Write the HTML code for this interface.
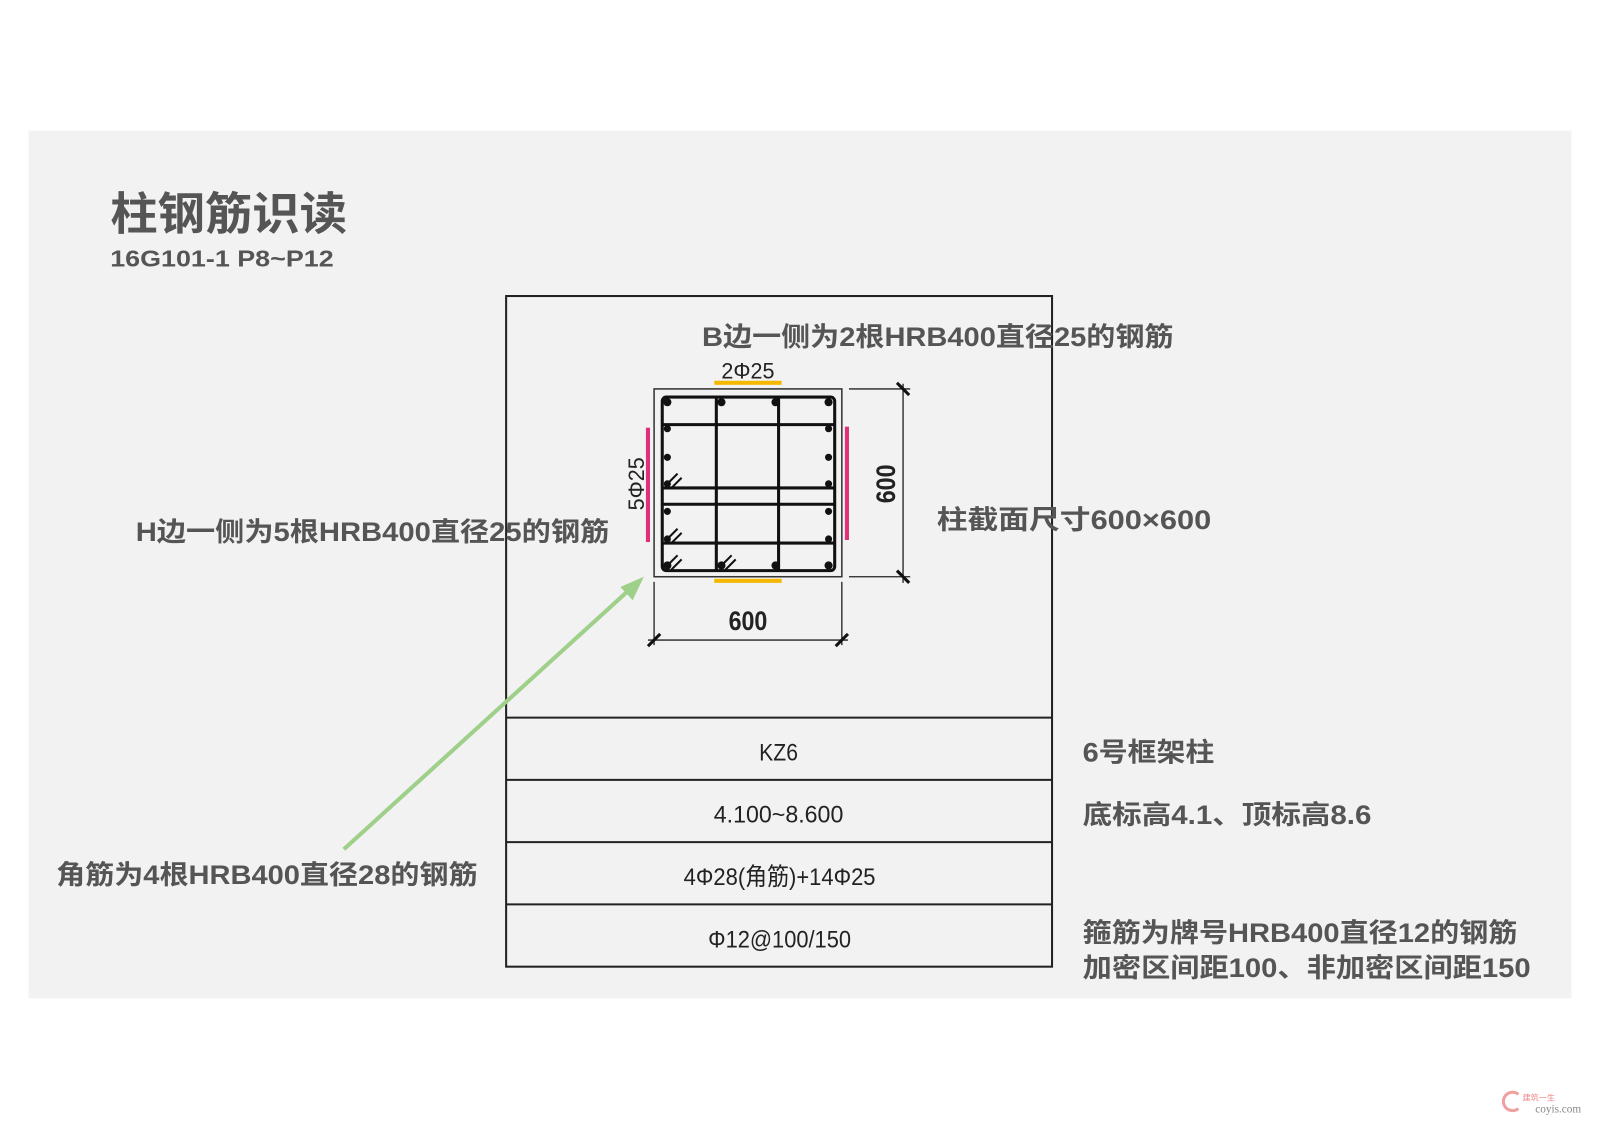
<!DOCTYPE html>
<html><head><meta charset="utf-8"><style>
html,body{margin:0;padding:0;background:#fff;}
svg{display:block}
.b{font-family:"Liberation Sans","Noto Sans CJK SC",sans-serif;font-weight:bold;fill:#555;}
.n{font-family:"Liberation Sans Narrow","Liberation Sans","Noto Sans CJK SC",sans-serif;fill:#222;}
</style></head><body>
<svg width="1600" height="1130" viewBox="0 0 1568 1107" preserveAspectRatio="none" xmlns="http://www.w3.org/2000/svg">
<rect x="0" y="0" width="1568" height="1107" fill="#fff"/>
<rect x="28" y="128" width="1512" height="850" fill="#f2f2f2"/>
<text class="b" x="108" y="225" font-size="44" textLength="232" lengthAdjust="spacingAndGlyphs">柱钢筋识读</text>
<text class="b" x="108" y="261" font-size="23" textLength="219" lengthAdjust="spacingAndGlyphs">16G101-1  P8~P12</text>
<g stroke="#222" stroke-width="2" fill="none">
<rect x="496" y="290" width="535" height="657"/>
<line x1="496" y1="703" x2="1031" y2="703"/>
<line x1="496" y1="764" x2="1031" y2="764"/>
<line x1="496" y1="825" x2="1031" y2="825"/>
<line x1="496" y1="886" x2="1031" y2="886"/>
</g>
<g class="n" font-size="24" text-anchor="middle">
<text x="763" y="745" textLength="38" lengthAdjust="spacingAndGlyphs">KZ6</text>
<text x="763" y="806" textLength="127" lengthAdjust="spacingAndGlyphs">4.100~8.600</text>
<text x="764" y="867" textLength="188" lengthAdjust="spacingAndGlyphs">4Φ28(角筋)+14Φ25</text>
<text x="764" y="928" textLength="140" lengthAdjust="spacingAndGlyphs">Φ12@100/150</text>
</g>
<rect x="641" y="381" width="184" height="184" fill="none" stroke="#333" stroke-width="1.5"/>
<g stroke="#111" stroke-width="3" fill="none">
<rect x="649" y="389" width="169" height="170" rx="4"/>
<line x1="702" y1="389" x2="702" y2="559"/>
<line x1="763" y1="389" x2="763" y2="559"/>
<line x1="649" y1="416" x2="818" y2="416"/>
<line x1="649" y1="478" x2="818" y2="478"/>
<line x1="649" y1="494" x2="818" y2="494"/>
<line x1="649" y1="532" x2="818" y2="532"/>
</g>
<g stroke="#111" stroke-width="2">
<line x1="654" y1="474" x2="664" y2="464"/><line x1="658" y1="478" x2="668" y2="468"/>
<line x1="654" y1="528" x2="664" y2="518"/><line x1="658" y1="532" x2="668" y2="522"/>
<line x1="654" y1="554" x2="664" y2="544"/><line x1="658" y1="558" x2="668" y2="548"/>
<line x1="707" y1="554" x2="717" y2="544"/><line x1="711" y1="558" x2="721" y2="548"/>
</g>
<g fill="#111">
<circle cx="654" cy="394" r="4"/><circle cx="707" cy="394" r="4"/><circle cx="760" cy="394" r="4"/><circle cx="812" cy="394" r="4"/>
<circle cx="654" cy="554" r="4"/><circle cx="707" cy="554" r="4"/><circle cx="760" cy="554" r="4"/><circle cx="812" cy="554" r="4"/>
<circle cx="654" cy="420" r="3.5"/><circle cx="654" cy="448" r="3.5"/><circle cx="654" cy="474" r="3.5"/><circle cx="654" cy="501" r="3.5"/><circle cx="654" cy="528" r="3.5"/>
<circle cx="812" cy="420" r="3.5"/><circle cx="812" cy="448" r="3.5"/><circle cx="812" cy="474" r="3.5"/><circle cx="812" cy="501" r="3.5"/><circle cx="812" cy="528" r="3.5"/>
</g>
<rect x="633" y="419" width="4" height="112" fill="#e0307a"/>
<rect x="828" y="418" width="4" height="111" fill="#e0307a"/>
<rect x="700" y="373" width="66" height="4" fill="#f5b800"/>
<rect x="700" y="567" width="66" height="4" fill="#f5b800"/>
<text class="n" x="733" y="371" font-size="22" text-anchor="middle" textLength="52" lengthAdjust="spacingAndGlyphs">2Φ25</text>
<text class="n" font-size="22" text-anchor="middle" transform="translate(631,474) rotate(-90)" textLength="52" lengthAdjust="spacingAndGlyphs">5Φ25</text>
<g stroke="#222" stroke-width="1.3">
<line x1="832" y1="381" x2="892" y2="381"/><line x1="832" y1="565" x2="892" y2="565"/>
<line x1="885" y1="376" x2="885" y2="571"/>
<line x1="641" y1="570" x2="641" y2="632"/><line x1="825" y1="570" x2="825" y2="632"/>
<line x1="635" y1="627" x2="831" y2="627"/>
</g>
<g stroke="#111" stroke-width="3">
<line x1="879" y1="375" x2="891" y2="387"/><line x1="879" y1="559" x2="891" y2="571"/>
<line x1="635" y1="633" x2="647" y2="621"/><line x1="819" y1="633" x2="831" y2="621"/>
</g>
<text class="n" x="733" y="617" font-size="26" font-weight="bold" text-anchor="middle" textLength="38" lengthAdjust="spacingAndGlyphs">600</text>
<text class="n" font-size="26" font-weight="bold" text-anchor="middle" transform="translate(877,474) rotate(-90)" textLength="38" lengthAdjust="spacingAndGlyphs">600</text>
<line x1="337" y1="832" x2="622" y2="573" stroke="#9fd08a" stroke-width="4"/>
<polygon points="631,565 608,575 620,588" fill="#9fd08a"/>
<g class="b" font-size="26">
<text x="688" y="339" textLength="462" lengthAdjust="spacingAndGlyphs">B边一侧为2根HRB400直径25的钢筋</text>
<text x="133" y="530" textLength="464" lengthAdjust="spacingAndGlyphs">H边一侧为5根HRB400直径25的钢筋</text>
<text x="918" y="518" textLength="269" lengthAdjust="spacingAndGlyphs">柱截面尺寸600×600</text>
<text x="55" y="866" textLength="413" lengthAdjust="spacingAndGlyphs">角筋为4根HRB400直径28的钢筋</text>
<text x="1061" y="746" textLength="129" lengthAdjust="spacingAndGlyphs">6号框架柱</text>
<text x="1061" y="807" textLength="283" lengthAdjust="spacingAndGlyphs">底标高4.1、顶标高8.6</text>
<text x="1061" y="923" textLength="426" lengthAdjust="spacingAndGlyphs">箍筋为牌号HRB400直径12的钢筋</text>
<text x="1061" y="957" textLength="439" lengthAdjust="spacingAndGlyphs">加密区间距100、非加密区间距150</text>
</g>
<path d="M1488,1072 a9,9 0 1 0 0,14" stroke="#f0a0a0" stroke-width="3" fill="none"/>
<text x="1492" y="1078" font-size="8" fill="#e88" font-family="Noto Sans CJK SC,sans-serif">建筑一生</text>
<text x="1527" y="1090" font-size="11" fill="#888" text-anchor="middle" font-family="Liberation Serif,serif">coyis.com</text>
</svg>
</body></html>
